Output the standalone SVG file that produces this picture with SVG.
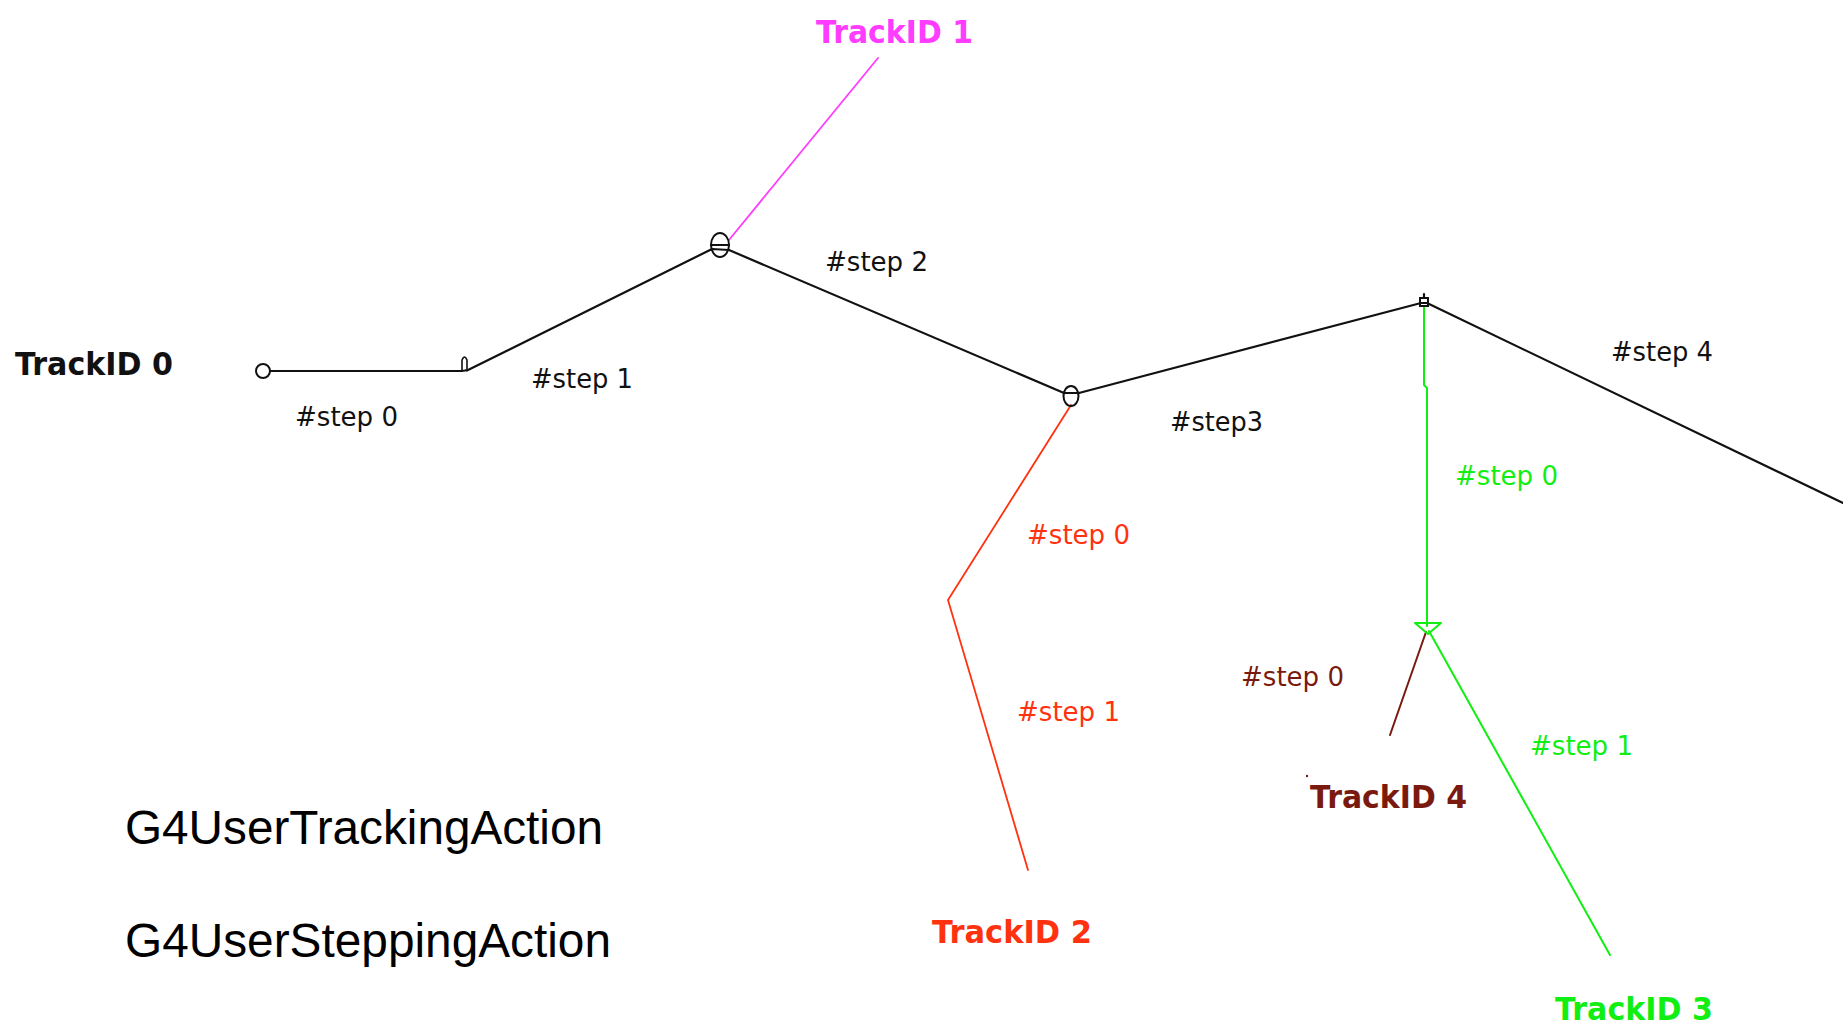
<svg xmlns="http://www.w3.org/2000/svg" width="1843" height="1033" viewBox="0 0 1843 1033">
<style>
  .bg { fill: #ffffff; }
  .trk { fill: none; stroke-linejoin: round; stroke-linecap: round; }
  .k { stroke: #111111; stroke-width: 2.2; }
  .mag { stroke: #ff3cff; stroke-width: 1.8; }
  .red { stroke: #ff3210; stroke-width: 1.8; }
  .grn { stroke: #11ee11; stroke-width: 2; }
  .drd { stroke: #7a1a0e; stroke-width: 2; }
  .mk { fill: #ffffff; stroke: #111111; stroke-width: 2; }
  .step { font-family: "DejaVu Sans", "Liberation Sans", sans-serif; font-size: 26px; }
  .tid { font-family: "DejaVu Sans", "Liberation Sans", sans-serif; font-size: 32px; font-weight: bold; }
  .big { font-family: "Liberation Sans", Arial, sans-serif; font-size: 47.5px; fill: #000000; }
  .cK { fill: #111111; }
  .cM { fill: #ff3cff; }
  .cR { fill: #ff3210; }
  .cG { fill: #11ee11; }
  .cD { fill: #7a1a0e; }
</style>
<rect class="bg" x="0" y="0" width="1843" height="1033"/>

<g id="connectors">
  <polyline class="trk k" points="270,371 462,371 468,370 712,249 729,250 1064,393 1079,393 1421,303 1427,303 1843,503"/>
  <line class="trk mag" x1="729" y1="240" x2="878" y2="58"/>
  <polyline class="trk red" points="1071,405 948,600 1028,870"/>
  <polyline class="trk grn" points="1424,306 1424,385 1427,388 1427,626"/>
  <line class="trk grn" x1="1429" y1="631" x2="1610" y2="955"/>
  <line class="trk drd" x1="1426" y1="632" x2="1390" y2="735"/>
</g>

<g id="node-track0">
  <circle class="mk" cx="263" cy="371" r="7"/>
  <path class="trk k" style="stroke-width:1.6" d="M462,371 V360 Q464.5,354 467,360 V371"/>
  <text class="tid cK" x="15" y="375" textLength="158" lengthAdjust="spacingAndGlyphs">TrackID 0</text>
  <text class="step cK" x="295" y="426" textLength="103" lengthAdjust="spacingAndGlyphs">#step 0</text>
  <text class="step cK" x="531" y="388" textLength="102" lengthAdjust="spacingAndGlyphs">#step 1</text>
  <text class="step cK" x="825" y="271" textLength="103" lengthAdjust="spacingAndGlyphs">#step 2</text>
  <text class="step cK" x="1170" y="431" textLength="93" lengthAdjust="spacingAndGlyphs">#step3</text>
  <text class="step cK" x="1611" y="361" textLength="102" lengthAdjust="spacingAndGlyphs">#step 4</text>
</g>

<g id="node-vertex1">
  <ellipse class="mk" cx="720" cy="245" rx="9" ry="12" fill="none" style="fill:none"/>
  <line class="trk k" x1="711" y1="245" x2="729" y2="245"/>
</g>

<g id="node-vertex2">
  <ellipse class="mk" cx="1071" cy="396" rx="7.5" ry="10" style="fill:none"/>
  <line class="trk k" x1="1064" y1="393" x2="1079" y2="393"/>
</g>

<g id="node-vertex3">
  <rect class="mk" x="1420" y="298" width="8" height="8" style="fill:none"/>
  <line class="trk k" x1="1424" y1="294" x2="1424" y2="298"/>
</g>

<g id="node-vertex4">
  <path class="trk grn" d="M1415,623 H1441 L1428,634 Z"/>
</g>

<g id="node-track1">
  <text class="tid cM" x="816" y="43" textLength="157" lengthAdjust="spacingAndGlyphs">TrackID 1</text>
</g>

<g id="node-track2">
  <text class="step cR" x="1027" y="544" textLength="103" lengthAdjust="spacingAndGlyphs">#step 0</text>
  <text class="step cR" x="1017" y="721" textLength="103" lengthAdjust="spacingAndGlyphs">#step 1</text>
  <text class="tid cR" x="932" y="943" textLength="160" lengthAdjust="spacingAndGlyphs">TrackID 2</text>
</g>

<g id="node-track3">
  <text class="step cG" x="1455" y="485" textLength="103" lengthAdjust="spacingAndGlyphs">#step 0</text>
  <text class="step cG" x="1530" y="755" textLength="103" lengthAdjust="spacingAndGlyphs">#step 1</text>
  <text class="tid cG" x="1555" y="1020" textLength="158" lengthAdjust="spacingAndGlyphs">TrackID 3</text>
</g>

<g id="node-track4">
  <text class="step cD" x="1241" y="686" textLength="103" lengthAdjust="spacingAndGlyphs">#step 0</text>
  <circle class="cD" cx="1307" cy="776" r="1.2"/>
  <text class="tid cD" x="1310" y="808" textLength="157" lengthAdjust="spacingAndGlyphs">TrackID 4</text>
</g>

<g id="node-actions">
  <text class="big" x="125" y="844" textLength="478" lengthAdjust="spacingAndGlyphs">G4UserTrackingAction</text>
  <text class="big" x="125" y="957" textLength="486" lengthAdjust="spacingAndGlyphs">G4UserSteppingAction</text>
</g>
</svg>
